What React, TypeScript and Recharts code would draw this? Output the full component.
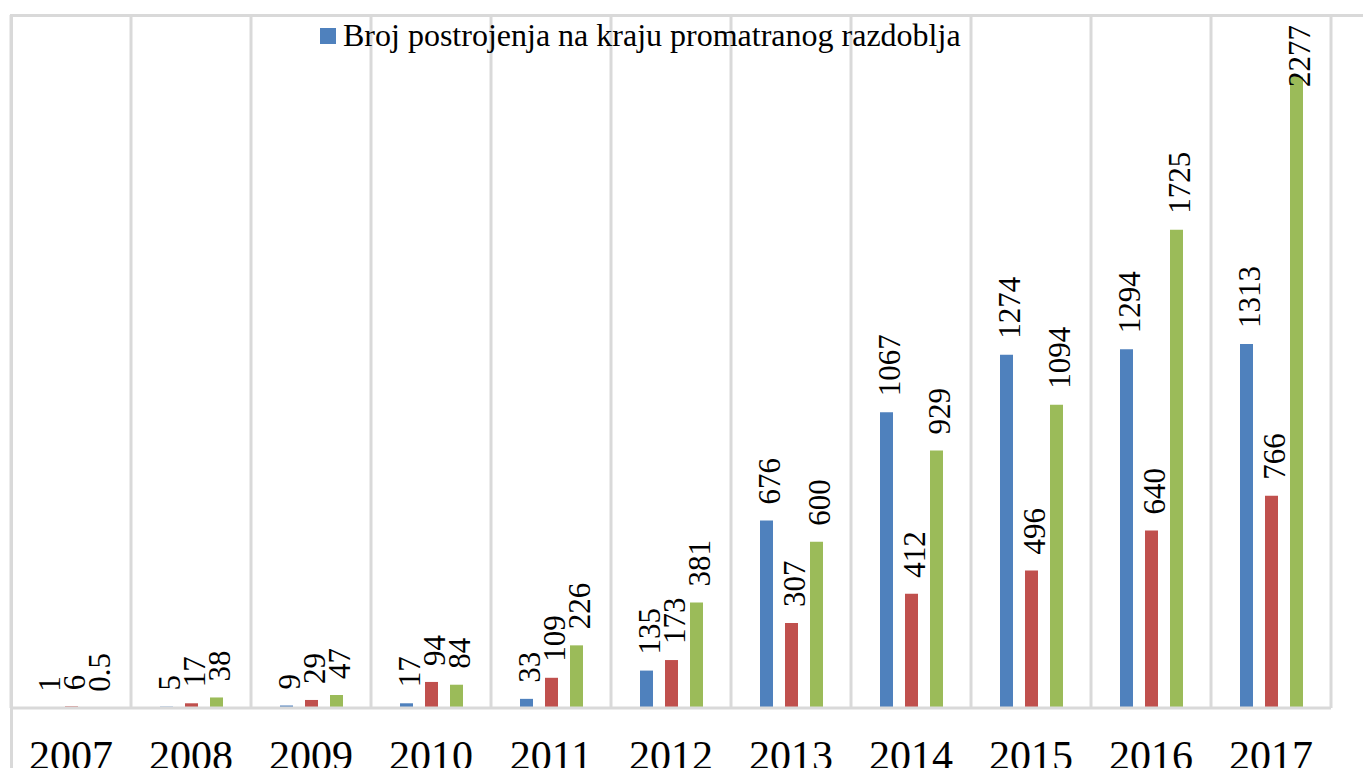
import { BarChart, Bar, XAxis, YAxis, CartesianGrid, LabelList, Legend } from 'recharts';

const YEARS = ['2007', '2008', '2009', '2010', '2011', '2012', '2013', '2014', '2015', '2016', '2017'];
// broj postrojenja na kraju razdoblja
const BROJ = [1, 5, 9, 17, 33, 135, 676, 1067, 1274, 1294, 1313];
const SNAGA = [6, 17, 29, 94, 109, 173, 307, 412, 496, 640, 766];
const PROIZVODNJA = [0.5, 38, 47, 84, 226, 381, 600, 929, 1094, 1725, 2277];

const data = YEARS.map((year, i) => ({
  year,
  broj: BROJ[i],
  snaga: SNAGA[i],
  proizvodnja: PROIZVODNJA[i],
}));

const COLORS = {
  blue: '#4F81BD',
  red: '#C0504D',
  green: '#9BBB59',
  grid: '#D9D9D9',
};

const FONT = '"Liberation Serif", "Times New Roman", serif';
const LABEL_SIZE = 31;

function BarValueLabel(props: any) {
  const vb = props.viewBox || props;
  const x = Number(vb.x ?? props.x);
  const y = Number(vb.y ?? props.y);
  const width = Number(vb.width ?? props.width);
  const value = props.value;
  const cx = x + width / 2;
  // keep the label inside the chart area (like the original does for the tallest bar)
  const len = String(value).length * LABEL_SIZE * 0.5;
  const ty = Math.max(y - 16, 25 + len);
  return (
    <text
      transform={`translate(${cx},${ty}) rotate(-90)`}
      dy={13}
      fontSize={LABEL_SIZE}
      fill="#000"
      textAnchor="start"
      style={{ fontFamily: FONT, fontSize: LABEL_SIZE }}
    >
      {value}
    </text>
  );
}

function LegendContent(props: any) {
  const items = (props.payload || []).filter((p: any) => p.dataKey === 'broj');
  return (
    <div style={{ fontFamily: FONT, fontSize: 32, lineHeight: '32px', color: '#000', whiteSpace: 'nowrap' }}>
      {items.map((p: any) => (
        <div key={p.value} style={{ display: 'flex', alignItems: 'flex-start' }}>
          <span style={{ display: 'inline-block', width: 16, height: 16, background: p.color, marginTop: 9, marginRight: 7 }} />
          <span>{p.value}</span>
        </div>
      ))}
    </div>
  );
}

export default function App() {
  const n = YEARS.length;
  return (
    <div style={{ position: 'absolute', left: 0, top: 0, width: 1363, height: 768, overflow: 'hidden', background: '#fff' }}>
      <div
        style={{
          position: 'absolute',
          left: 10,
          top: 14,
          right: -10,
          bottom: -10,
          borderTop: `3px solid ${COLORS.grid}`,
          borderLeft: `3px solid ${COLORS.grid}`,
        }}
      />
      <div style={{ position: 'absolute', left: 0, top: 0 }}>
        <BarChart
          width={1363}
          height={768}
          data={data}
          margin={{ top: 15, right: 32, bottom: 0, left: 11 }}
          barSize={13}
          barGap={12}
        >
          <CartesianGrid
            horizontal={false}
            stroke={COLORS.grid}
            strokeWidth={3}
            verticalCoordinatesGenerator={(p: any) => {
              const o = p.offset || { left: 11, width: 1320 };
              return Array.from({ length: n + 1 }, (_, i) => o.left + (i * o.width) / n);
            }}
          />
          <XAxis
            dataKey="year"
            height={60}
            interval={0}
            tickSize={0}
            tickMargin={32}
            tickLine={false}
            axisLine={{ stroke: COLORS.grid, strokeWidth: 3 }}
            tick={{ fontSize: 42, fill: '#000', fontFamily: FONT }}
          />
          <YAxis hide domain={[0, 2500]} />
          <Legend
            layout="vertical"
            align="center"
            verticalAlign="middle"
            wrapperStyle={{ left: 320, top: 19, width: 'auto' }}
            content={<LegendContent />}
          />
          <Bar dataKey="broj" name="Broj postrojenja na kraju promatranog razdoblja" fill={COLORS.blue} isAnimationActive={false}>
            <LabelList dataKey="broj" content={<BarValueLabel />} />
          </Bar>
          <Bar dataKey="snaga" name="Instalirana snaga (MW)" fill={COLORS.red} isAnimationActive={false}>
            <LabelList dataKey="snaga" content={<BarValueLabel />} />
          </Bar>
          <Bar dataKey="proizvodnja" name="Proizvodnja (GWh)" fill={COLORS.green} isAnimationActive={false}>
            <LabelList dataKey="proizvodnja" content={<BarValueLabel />} />
          </Bar>
        </BarChart>
      </div>
    </div>
  );
}
